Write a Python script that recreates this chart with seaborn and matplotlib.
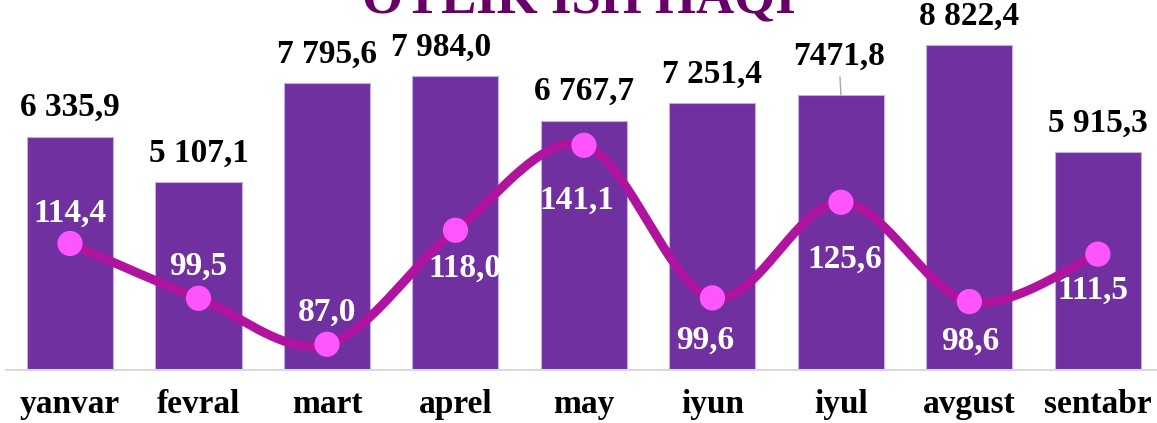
import numpy as np
import seaborn as sns
import matplotlib.pyplot as plt

months = ["yanvar", "fevral", "mart", "aprel", "may", "iyun", "iyul", "avgust", "sentabr"]
wage = [6335.9, 5107.1, 7795.6, 7984.0, 6767.7, 7251.4, 7471.8, 8822.4, 5915.3]
wage_labels = ["6 335,9", "5 107,1", "7 795,6", "7 984,0", "6 767,7",
               "7 251,4", "7471,8", "8 822,4", "5 915,3"]
index = [114.4, 99.5, 87.0, 118.0, 141.1, 99.6, 125.6, 98.6, 111.5]
title = "OYLIK ISH HAQI"

BAR = "#7030A0"
LINE = "#B0149E"
DOT = "#FF55FF"
SERIF = "Liberation Serif"

sns.set_style("white")
plt.rcParams["font.family"] = [SERIF, "DejaVu Serif"]


def smooth(y, n=40):
    # Catmull-Rom style smoothing like spreadsheet "smoothed line"
    pts = np.column_stack([np.arange(len(y)), y]).astype(float)
    p = np.vstack([pts[0], pts, pts[-1]])
    out = []
    for i in range(1, len(p) - 2):
        p0, p1, p2, p3 = p[i - 1], p[i], p[i + 1], p[i + 2]
        c1 = p1 + (p2 - p0) / 6
        c2 = p2 - (p3 - p1) / 6
        t = np.linspace(0, 1, n)[:, None]
        seg = ((1 - t) ** 3) * p1 + 3 * ((1 - t) ** 2) * t * c1 + 3 * (1 - t) * t ** 2 * c2 + t ** 3 * p2
        out.append(seg)
    out = np.vstack(out)
    return out[:, 0], out[:, 1]


fig = plt.figure(figsize=(11.57, 4.23), dpi=100)
ax = fig.add_axes([0.005, 53 / 423, 0.9994, 370 / 423])

sns.barplot(x=months, y=wage, color=BAR, width=0.67, ax=ax,
            edgecolor="#C4AEDD", linewidth=0.8, saturation=1)
ax.set_xlim(-0.5, 8.5)
ax.set_ylim(0, 10044)

# bar value labels (offsets in px)
for i, (v, lab) in enumerate(zip(wage, wage_labels)):
    if i == 6:
        ax.annotate(lab, (i, v), xytext=(-2 * 0.72, 38 * 0.72), textcoords="offset points",
                    ha="center", va="center", fontsize=24, fontweight="bold", color="black",
                    arrowprops=dict(arrowstyle="-", color="#A6A6A6", lw=1, shrinkA=1, shrinkB=0))
    else:
        dx = -14 if i == 3 else 0
        ax.annotate(lab, (i, v), xytext=(dx * 0.72, 29 * 0.72), textcoords="offset points",
                    ha="center", va="center", fontsize=24, fontweight="bold", color="black")

ax.set_yticks([])
ax.set_xlabel("")
ax.set_ylabel("")
ax.tick_params(axis="x", length=0, pad=14, labelsize=24, labelcolor="black")
for t in ax.get_xticklabels():
    t.set_fontweight("bold")
for s in ["top", "left", "right"]:
    ax.spines[s].set_visible(False)
ax.spines["bottom"].set_color("#D9D9D9")
ax.spines["bottom"].set_linewidth(1.5)

# secondary axis: smoothed index line
ax2 = ax.twinx()
xs, ys = smooth(index)
ax2.plot(xs, ys, color=LINE, lw=6.5, solid_capstyle="round", zorder=2)
sns.scatterplot(x=np.arange(len(index)), y=index, ax=ax2, s=330, color=DOT,
                edgecolor="none", zorder=3)
ax2.set_ylim(80, 180.6)
ax2.set_xlim(-0.5, 8.5)
ax2.axis("off")

line_offsets = [(0, 30), (0, 32), (0, 32), (9, -38), (-7, -55),
                (-7, -42), (4, -57), (1, -40), (-5, -36)]
for i, v in enumerate(index):
    dx, dy = line_offsets[i]
    ax2.annotate(f"{v:.1f}".replace(".", ","), (i, v), xytext=(dx * 0.72, dy * 0.72),
                 textcoords="offset points", ha="center", va="center",
                 fontsize=24, fontweight="bold", color="white", zorder=4)

fig.text(0.5, 1 - 12 / 423, title, ha="center", va="baseline",
         fontsize=38, fontweight="bold", color="#660066")

fig.savefig("out.png", dpi=100)
